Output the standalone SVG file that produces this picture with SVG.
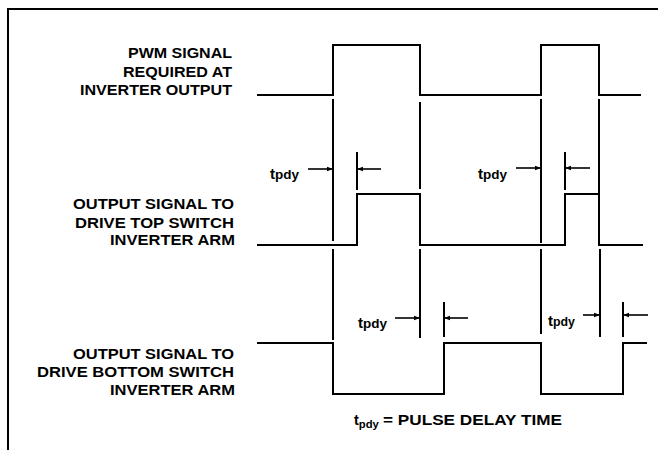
<svg xmlns="http://www.w3.org/2000/svg" width="658" height="450" viewBox="0 0 658 450">
<defs>
<style>
.w{fill:none;stroke:#000;stroke-width:2;stroke-linecap:square}
.g{fill:none;stroke:#000;stroke-width:2}
.a{fill:none;stroke:#000;stroke-width:1.6}
.t{font-family:"Liberation Sans",Arial,sans-serif;font-size:14.5px;font-weight:bold;fill:#000}
.l{font-family:"Liberation Sans",Arial,sans-serif;font-size:15px;font-weight:bold;fill:#000}
</style>
<marker id="ah" viewBox="0 0 6 6" refX="5" refY="3" markerWidth="6" markerHeight="6" markerUnits="userSpaceOnUse" orient="auto">
<path d="M0,0.8 L6,3 L0,5.2 Z" fill="#000"/>
</marker>
</defs>
<rect width="658" height="450" fill="#fff"/>
<g id="frame"><path class="g" d="M8,450 V9 H658"/></g>
<g id="pwm-signal">
<path class="w" d="M258,95 H333 V45 H420 V95 H541 V45 H599 V95 H640"/>
<text class="t" x="128" y="58" textLength="104" lengthAdjust="spacingAndGlyphs">PWM SIGNAL</text>
<text class="t" x="123" y="77" textLength="109" lengthAdjust="spacingAndGlyphs">REQUIRED AT</text>
<text class="t" x="80" y="95" textLength="152" lengthAdjust="spacingAndGlyphs">INVERTER OUTPUT</text>
</g>
<g id="top-switch">
<path class="w" d="M258,245 H357 V194 H420 V245 H565 V194 H599 V245 H642"/>
<text class="t" x="73" y="209" textLength="161" lengthAdjust="spacingAndGlyphs">OUTPUT SIGNAL TO</text>
<text class="t" x="75" y="228" textLength="159" lengthAdjust="spacingAndGlyphs">DRIVE TOP SWITCH</text>
<text class="t" x="110" y="245" textLength="125" lengthAdjust="spacingAndGlyphs">INVERTER ARM</text>
</g>
<g id="bottom-switch">
<path class="w" d="M258,343 H333 V394 H444 V343 H541 V394 H623 V343 H646"/>
<text class="t" x="73" y="359" textLength="161" lengthAdjust="spacingAndGlyphs">OUTPUT SIGNAL TO</text>
<text class="t" x="37" y="377" textLength="197" lengthAdjust="spacingAndGlyphs">DRIVE BOTTOM SWITCH</text>
<text class="t" x="110" y="395" textLength="125" lengthAdjust="spacingAndGlyphs">INVERTER ARM</text>
</g>
<g id="connectors">
<path class="g" d="M333,99 V241 M333,249 V340 M357,152 V190 M420,102 V189 M420,249 V338 M444,302 V337 M541,99 V243 M541,249 V334 M565,152 V190 M599,99 V194 M600,249 V337 M623,302 V337"/>
<line class="a" x1="308" y1="169" x2="332" y2="169" marker-end="url(#ah)"/>
<line class="a" x1="381" y1="169" x2="358" y2="169" marker-end="url(#ah)"/>
<line class="a" x1="516" y1="168" x2="540" y2="168" marker-end="url(#ah)"/>
<line class="a" x1="590" y1="168" x2="566" y2="168" marker-end="url(#ah)"/>
<line class="a" x1="395" y1="318" x2="419" y2="318" marker-end="url(#ah)"/>
<line class="a" x1="468" y1="318" x2="445" y2="318" marker-end="url(#ah)"/>
<line class="a" x1="583" y1="315" x2="599" y2="315" marker-end="url(#ah)"/>
<line class="a" x1="648" y1="315" x2="624" y2="315" marker-end="url(#ah)"/>
</g>
<g id="delay-labels">
<text class="l" x="270" y="179">t<tspan font-size="12.5" textLength="24" lengthAdjust="spacingAndGlyphs">pdy</tspan></text>
<text class="l" x="478" y="179">t<tspan font-size="12.5" textLength="24" lengthAdjust="spacingAndGlyphs">pdy</tspan></text>
<text class="l" x="358" y="328">t<tspan font-size="12.5" textLength="24" lengthAdjust="spacingAndGlyphs">pdy</tspan></text>
<text class="l" x="548" y="326">t<tspan font-size="12.5" textLength="22" lengthAdjust="spacingAndGlyphs">pdy</tspan></text>
</g>
<g id="legend">
<text class="t" x="354" y="425">t<tspan font-size="10" dy="3" textLength="20" lengthAdjust="spacingAndGlyphs">pdy</tspan><tspan dy="-3" x="383" textLength="179" lengthAdjust="spacingAndGlyphs">= PULSE DELAY TIME</tspan></text>
</g>
</svg>
